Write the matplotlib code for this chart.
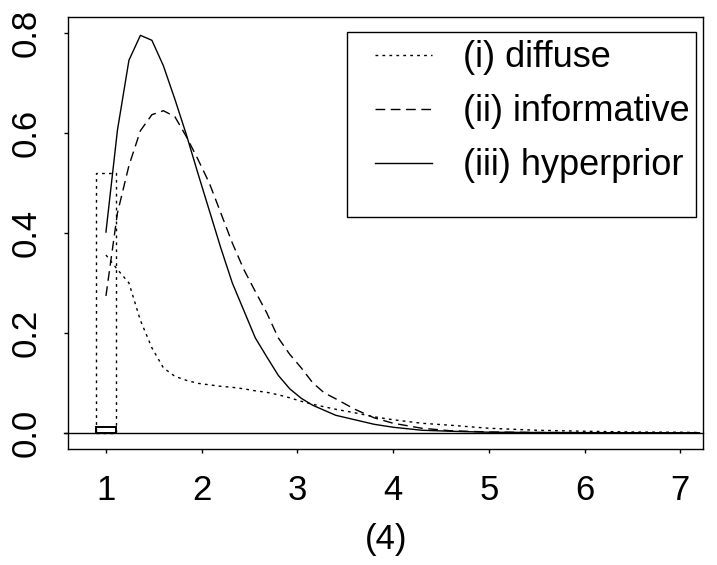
import numpy as np
import matplotlib.pyplot as plt
from matplotlib.patches import Rectangle

plt.rcParams['font.family'] = ['Liberation Sans', 'DejaVu Sans']

# Posterior densities
x = [1.00, 1.12, 1.24, 1.36, 1.48, 1.60, 1.72, 1.84, 1.96, 2.08, 2.20,
     2.32, 2.44, 2.56, 2.68, 2.80, 2.92, 3.04, 3.16, 3.28, 3.40, 3.60,
     3.80, 4.00, 4.30, 4.60, 5.00, 5.50, 6.00, 6.50, 7.00, 7.20]

diffuse = [0.356, 0.327, 0.300, 0.225, 0.170, 0.130, 0.113, 0.105, 0.099,
           0.096, 0.093, 0.091, 0.088, 0.084, 0.081, 0.076, 0.070, 0.063,
           0.057, 0.052, 0.047, 0.040, 0.032, 0.026, 0.019, 0.015, 0.009,
           0.005, 0.003, 0.0015, 0.001, 0.0005]

informative = [0.274, 0.440, 0.535, 0.605, 0.637, 0.645, 0.633, 0.593, 0.548,
               0.500, 0.440, 0.380, 0.327, 0.283, 0.240, 0.190, 0.157, 0.130,
               0.100, 0.080, 0.068, 0.047, 0.030, 0.019, 0.009, 0.004, 0.0015,
               0.0005, 0.0002, 0.0001, 0.0, 0.0]

hyperprior = [0.402, 0.606, 0.746, 0.796, 0.786, 0.735, 0.668, 0.597, 0.520,
              0.445, 0.370, 0.300, 0.245, 0.190, 0.152, 0.115, 0.088, 0.069,
              0.055, 0.045, 0.035, 0.026, 0.017, 0.011, 0.005, 0.003, 0.001,
              0.0005, 0.0002, 0.0001, 0.0, 0.0]

# point mass at 1 drawn as two boxes (diffuse tall, hyperprior small)
mass_x = 1.0
mass_width = 0.2
mass_diffuse = 0.52
mass_hyper = 0.012

labels = ['(i) diffuse', '(ii) informative', '(iii) hyperprior']
xticks = [1, 2, 3, 4, 5, 6, 7]
yticks = [0.0, 0.2, 0.4, 0.6, 0.8]

fig = plt.figure(figsize=(7.17, 5.65), dpi=100)
ax = fig.add_axes([0.0953, 0.2058, 0.8856, 0.7635])

lw = 1.0
dot = (2, 3)
ax.plot(x, diffuse, color='black', lw=lw, dashes=dot, label=labels[0])
ax.plot(x, informative, color='black', lw=lw, dashes=(7, 4), label=labels[1])
ax.plot(x, hyperprior, color='black', lw=lw, label=labels[2])

ax.bar(mass_x, mass_diffuse, width=mass_width, fill=False, edgecolor='black',
       lw=lw, linestyle=(0, dot))
ax.bar(mass_x, mass_hyper, width=mass_width, fill=False, edgecolor='black',
       lw=1.4)
ax.axhline(0, xmin=-0.007, xmax=1.0, color='black', lw=lw, clip_on=False)

ax.set_xlim(0.607, 7.24)
ax.set_ylim(-0.032, 0.832)
ax.set_xticks(xticks)
ax.set_xticklabels([str(t) for t in xticks])
ax.set_yticks(yticks)
ax.set_yticklabels(['%.1f' % t for t in yticks], rotation=90, va='center')
ax.tick_params(direction='out', length=3.2, width=1, labelsize=25)
ax.tick_params(axis='x', pad=14.8)
ax.tick_params(axis='y', pad=15.3)
for s in ax.spines.values():
    s.set_linewidth(1.0)
ax.set_xlabel('(4)', fontsize=25, labelpad=12)

# legend entries without frame, box drawn separately (R leaves extra room below)
leg = ax.legend(loc='upper left', bbox_to_anchor=(0.483, 0.947), fontsize=26,
                frameon=False, handlelength=1.58, handletextpad=0.86,
                labelspacing=0.53, borderpad=0, borderaxespad=0)
ax.add_patch(Rectangle((0.4384, 0.5378), 0.9885 - 0.4384, 0.9666 - 0.5378,
                       transform=ax.transAxes, fill=False, edgecolor='black',
                       lw=1.0, zorder=5))

fig.savefig('out.png', dpi=100)
